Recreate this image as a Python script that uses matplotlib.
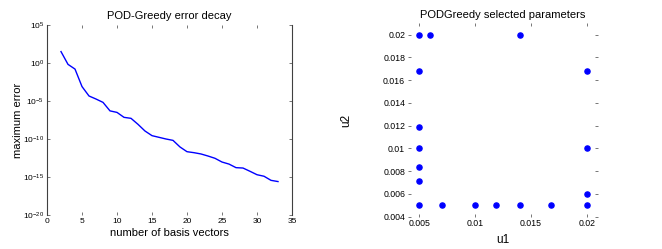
import numpy as np
import matplotlib
matplotlib.use("Agg")
import matplotlib.pyplot as plt

plt.rcParams['font.family'] = ['Liberation Sans', 'DejaVu Sans']

# error decay data (log10 of max error) for basis sizes 2..33
n_basis = list(range(2, 34))
log_err = [1.5, -0.18, -0.8, -3.1, -4.34, -4.74, -5.18, -6.3, -6.5, -7.15, -7.28,
           -8.07, -8.95, -9.56, -9.78, -10.0, -10.18, -11.05, -11.67, -11.8, -11.97,
           -12.24, -12.54, -13.03, -13.3, -13.77, -13.82, -14.25, -14.7, -14.9,
           -15.44, -15.6]
max_err = [10.0 ** v for v in log_err]

# selected parameters
u1 = [0.005, 0.006, 0.014, 0.005, 0.02, 0.005, 0.005, 0.02, 0.005, 0.005, 0.02,
      0.005, 0.007, 0.01, 0.0119, 0.014, 0.0168, 0.02]
u2 = [0.02, 0.02, 0.02, 0.0168, 0.0168, 0.0119, 0.01, 0.01, 0.0084, 0.0071, 0.006,
      0.005, 0.005, 0.005, 0.005, 0.005, 0.005, 0.005]

fig = plt.figure(figsize=(6.62, 2.49), dpi=100)
W, H = 662.0, 249.0

# left: error decay
ax1 = fig.add_axes([47 / W, 1 - 215 / H, (292 - 47) / W, (215 - 25) / H])
ax1.semilogy(n_basis, max_err, color='#0000ff', lw=1.0)
ax1.set_xlim(0, 35)
ax1.set_ylim(1e-20, 1e5)
ax1.set_xticks([0, 5, 10, 15, 20, 25, 30, 35])
ax1.set_yticks([1e-20, 1e-15, 1e-10, 1e-5, 1e0, 1e5])
ax1.minorticks_off()
ax1.set_title('POD-Greedy error decay', fontsize=8, pad=4)
ax1.set_xlabel('number of basis vectors', fontsize=8, labelpad=2)
ax1.set_ylabel('maximum error', fontsize=8, labelpad=0)
ax1.spines['top'].set_visible(False)
ax1.spines['bottom'].set_visible(False)
for s in ['left', 'right']:
    ax1.spines[s].set_color('#404040')
    ax1.spines[s].set_linewidth(0.8)
ax1.tick_params(direction='in', length=2.5, width=0.6, color='#606060',
                labelsize=6, top=True, right=True, pad=2)

# right: selected parameters
ax2 = fig.add_axes([408 / W, 1 - 216.7 / H, (598 - 408) / W, (216.7 - 23.3) / H])
ax2.plot(u1, u2, 'o', color='#0000ff', ms=3.7, mec='#0000ff')
ax2.set_xlim(0.004, 0.021)
ax2.set_ylim(0.004, 0.021)
ax2.set_xticks([0.005, 0.01, 0.015, 0.02])
ax2.set_xticklabels(['0.005', '0.01', '0.015', '0.02'])
yt = [0.004, 0.006, 0.008, 0.01, 0.012, 0.014, 0.016, 0.018, 0.02]
ax2.set_yticks(yt)
ax2.set_yticklabels(['0.004', '0.006', '0.008', '0.01', '0.012', '0.014',
                     '0.016', '0.018', '0.02'])
ax2.set_title('PODGreedy selected parameters', fontsize=8, pad=4)
ax2.set_xlabel('u1', fontsize=8.5, labelpad=4)
ax2.set_ylabel('u2', fontsize=8.5, labelpad=22)
for s in ax2.spines.values():
    s.set_visible(False)
ax2.tick_params(direction='in', length=2.5, width=0.6, color='#606060',
                labelsize=6.3, top=True, right=True, pad=2)

fig.savefig('out.png', dpi=100)
